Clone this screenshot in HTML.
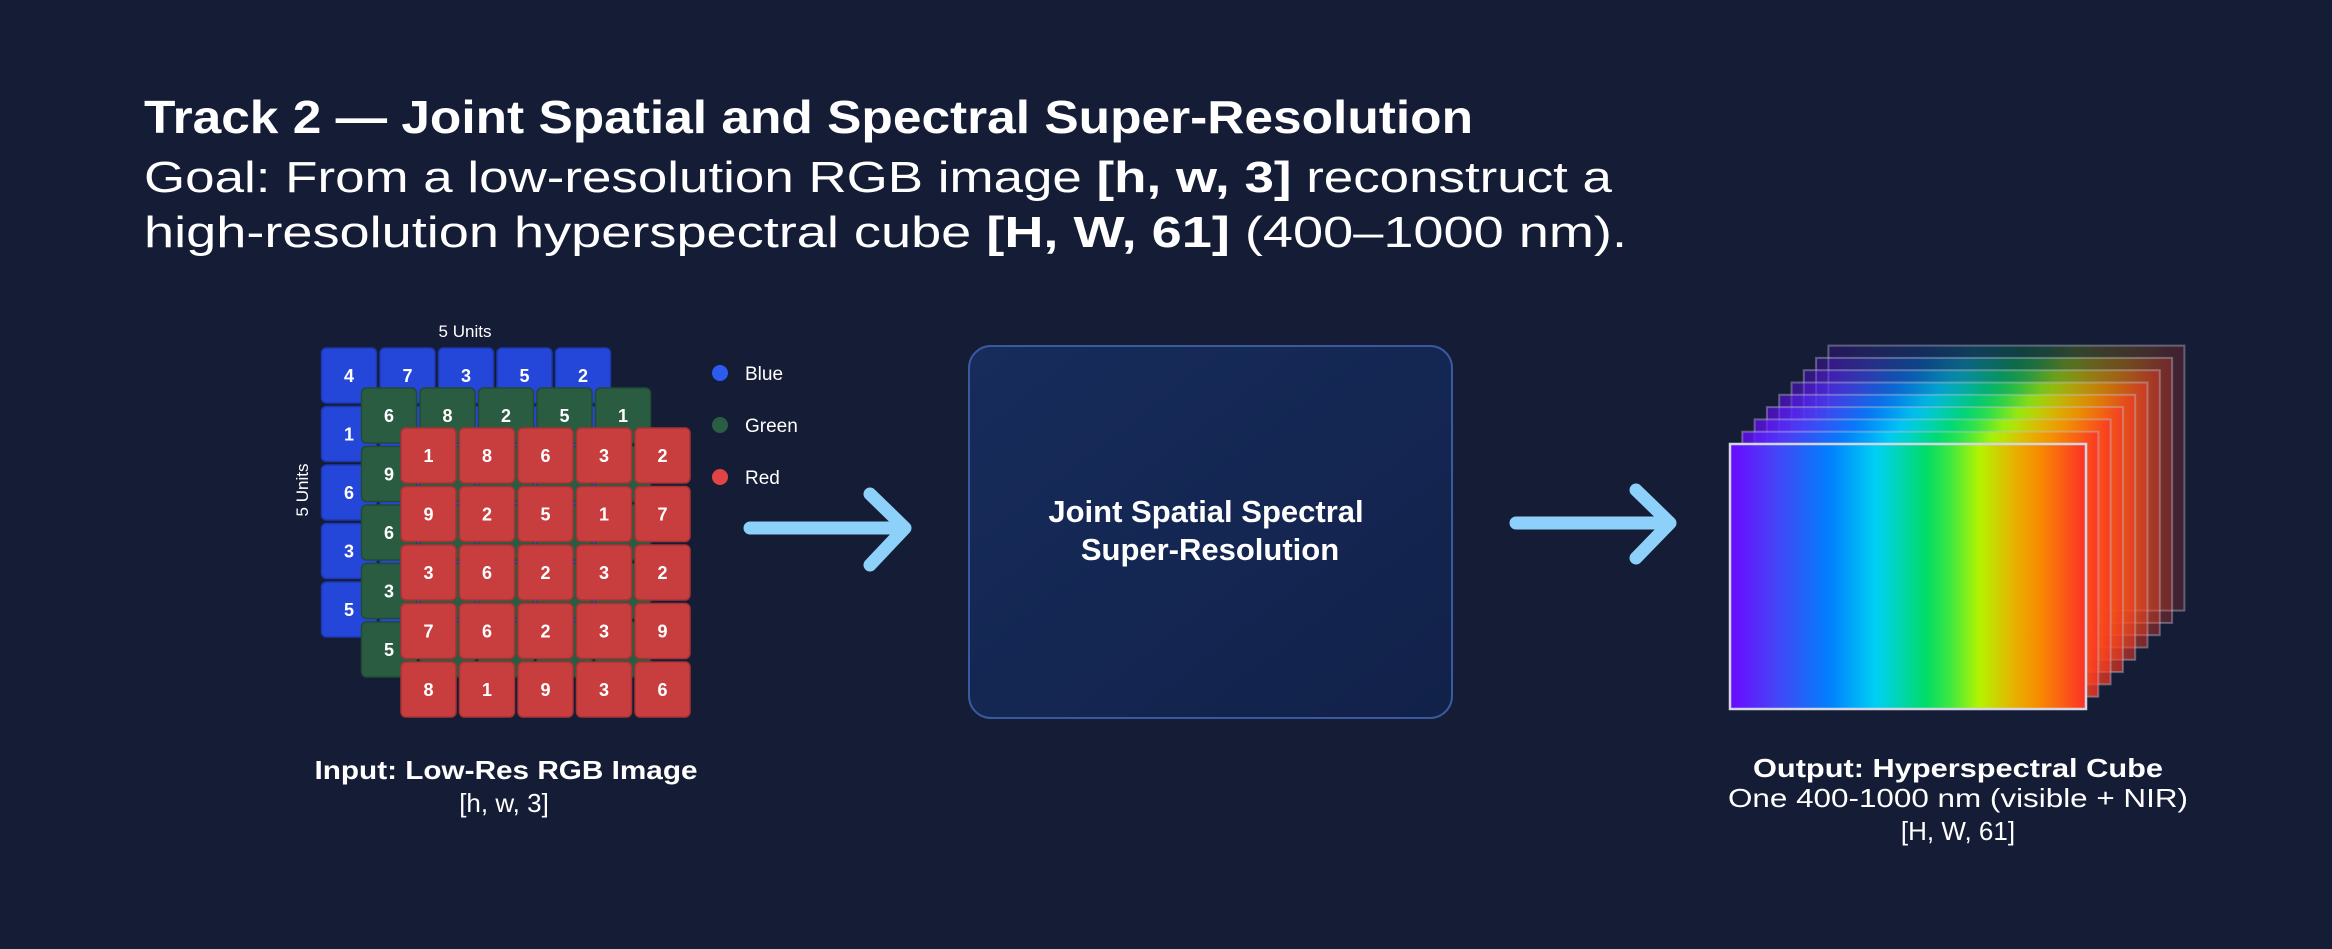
<!DOCTYPE html>
<html><head><meta charset="utf-8"><style>
html,body{margin:0;padding:0;background:#151c35;}
svg{display:block;}
</style></head><body>
<svg width="2332" height="949" viewBox="0 0 2332 949" xmlns="http://www.w3.org/2000/svg">
<defs>
<linearGradient id="spec" x1="0" x2="1" y1="0" y2="0">
<stop offset="0" stop-color="#6a08ff"/>
<stop offset="0.12" stop-color="#4a40f8"/>
<stop offset="0.2" stop-color="#2560f8"/>
<stop offset="0.28" stop-color="#0080fc"/>
<stop offset="0.41" stop-color="#00d0f5"/>
<stop offset="0.55" stop-color="#00dc68"/>
<stop offset="0.62" stop-color="#40e840"/>
<stop offset="0.70" stop-color="#b4f400"/>
<stop offset="0.80" stop-color="#e8b000"/>
<stop offset="0.87" stop-color="#f88a00"/>
<stop offset="1" stop-color="#fc3028"/>
</linearGradient>
<linearGradient id="boxg" x1="0" y1="0" x2="1" y2="1">
<stop offset="0" stop-color="#172c5c"/>
<stop offset="1" stop-color="#112149"/>
</linearGradient>
</defs>
<rect width="2332" height="949" fill="#151c35"/>

<g font-family="Liberation Sans, sans-serif" fill="#ffffff">
<text x="144" y="133" font-size="46" font-weight="bold" textLength="1329" lengthAdjust="spacingAndGlyphs">Track 2 — Joint Spatial and Spectral Super-Resolution</text>
<text x="144" y="192" font-size="44" textLength="1468" lengthAdjust="spacingAndGlyphs">Goal: From a low-resolution RGB image <tspan font-weight="bold">[h, w, 3]</tspan> reconstruct a</text>
<text x="144" y="247" font-size="44" textLength="1483" lengthAdjust="spacingAndGlyphs">high-resolution hyperspectral cube <tspan font-weight="bold">[H, W, 61]</tspan> (400–1000 nm).</text>
</g>

<g font-family="Liberation Sans, sans-serif" font-size="17" fill="#fff" text-anchor="middle">
<text x="465" y="337">5 Units</text>
<text transform="translate(308,490) rotate(-90)">5 Units</text>
</g>
<g id="grid" font-family="Liberation Sans, sans-serif" font-weight="bold" font-size="18" text-anchor="middle" fill="#fff">
</g>

<g font-family="Liberation Sans, sans-serif" font-size="19" fill="#fff">
<circle cx="720" cy="373" r="8" fill="#2d5af0"/><text x="745" y="380">Blue</text>
<circle cx="720" cy="425" r="8" fill="#2a5e42"/><text x="745" y="432">Green</text>
<circle cx="720" cy="477" r="8" fill="#e04444"/><text x="745" y="484">Red</text>
</g>

<g stroke="#8dd1fb" stroke-width="13" stroke-linecap="round" stroke-linejoin="round" fill="none">
<path d="M750 528 H903 M870 494 L905 528 L870 565"/>
<path d="M1516 523 H1669 M1636 490 L1670 523 L1636 558"/>
</g>

<rect x="969" y="346" width="483" height="372" rx="22" fill="url(#boxg)" stroke="#3a5aa0" stroke-width="2"/>
<g font-family="Liberation Sans, sans-serif" font-weight="bold" font-size="31" fill="#fff" text-anchor="middle">
<text x="1206" y="522">Joint Spatial Spectral</text>
<text x="1210" y="560">Super-Resolution</text>
</g>

<g id="stack"></g>

<g font-family="Liberation Sans, sans-serif" fill="#fff" text-anchor="middle">
<text x="506" y="779" font-size="26" font-weight="bold" textLength="383" lengthAdjust="spacingAndGlyphs">Input: Low-Res RGB Image</text>
<text x="504" y="812" font-size="26">[h, w, 3]</text>
<text x="1958" y="777" font-size="26" font-weight="bold" textLength="410" lengthAdjust="spacingAndGlyphs">Output: Hyperspectral Cube</text>
<text x="1958" y="807" font-size="26" textLength="460" lengthAdjust="spacingAndGlyphs">One 400-1000 nm (visible + NIR)</text>
<text x="1958" y="840" font-size="26">[H, W, 61]</text>
</g>

<script>
(function(){
var NS="http://www.w3.org/2000/svg";
var g=document.getElementById("grid");
function tile(x,y,fill,stroke,n){
 var r=document.createElementNS(NS,"rect");
 r.setAttribute("x",x);r.setAttribute("y",y);r.setAttribute("width",55);r.setAttribute("height",55);
 r.setAttribute("rx",5);r.setAttribute("fill",fill);r.setAttribute("stroke",stroke);r.setAttribute("stroke-width",1.5);
 g.appendChild(r);
 var t=document.createElementNS(NS,"text");
 t.setAttribute("x",x+27.5);t.setAttribute("y",y+34);t.textContent=n;g.appendChild(t);
}
var B=[[4,7,3,5,2],[1],[6],[3],[5]];
var G=[[6,8,2,5,1],[9],[6],[3],[5]];
var R=[[1,8,6,3,2],[9,2,5,1,7],[3,6,2,3,2],[7,6,2,3,9],[8,1,9,3,6]];
var p=58.5;
for(var i=0;i<5;i++)for(var j=0;j<5;j++){var v=B[i][j];tile(321.5+j*p,348+i*p,"#2547d9","#1c38b0",v===undefined?"":v);}
for(var i=0;i<5;i++)for(var j=0;j<5;j++){var v=G[i][j];tile(361.5+j*p,388+i*p,"#2a5c42","#214a35",v===undefined?"":v);}
for(var i=0;i<5;i++)for(var j=0;j<5;j++){tile(401+j*p,428+i*p,"#c83e3f","#a83233",R[i][j]);}
var s=document.getElementById("stack");
for(var k=8;k>=0;k--){
 var x=1730+k*12.3,y=444-k*12.3;
 var op=k==0?1:Math.max(0.18,0.86-k*0.084);
 var r=document.createElementNS(NS,"rect");
 r.setAttribute("x",x);r.setAttribute("y",y);r.setAttribute("width",356);r.setAttribute("height",265);
 r.setAttribute("fill","url(#spec)");r.setAttribute("fill-opacity",op);
 r.setAttribute("stroke",k==0?"#d4d6e4":"#c0c4d8");r.setAttribute("stroke-opacity",k==0?1:0.4);r.setAttribute("stroke-width",k==0?2.5:2);
 s.appendChild(r);
}
})();
</script>
</svg>
</body></html>
